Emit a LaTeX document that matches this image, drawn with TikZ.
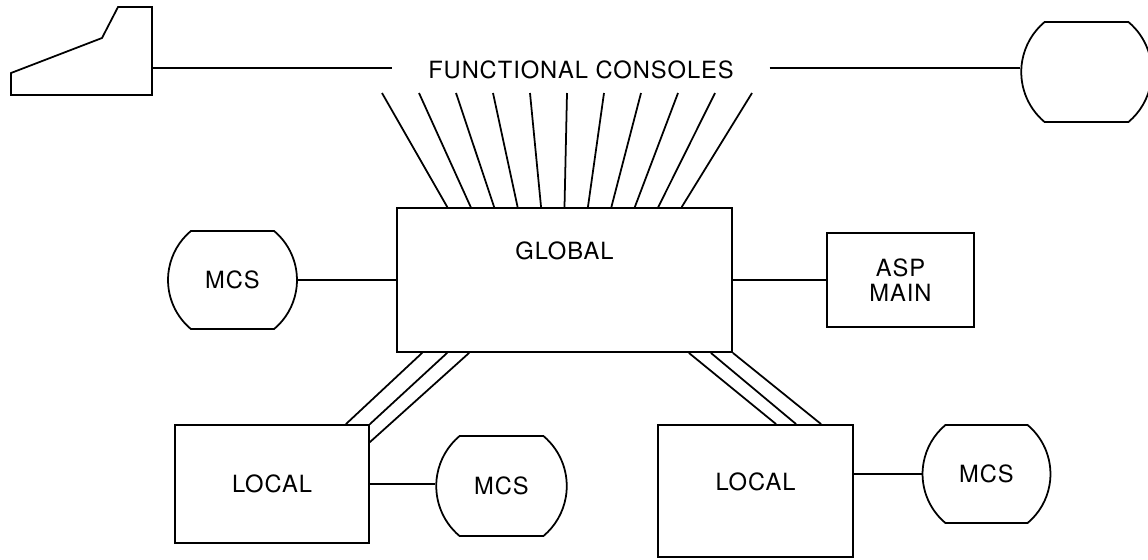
\documentclass[tikz,border=0pt]{standalone}
\usepackage{fontspec}
\setmainfont[LetterSpace=4]{TeX Gyre Heros}
\usetikzlibrary{calc,positioning,shapes.misc}

\begin{document}
\begin{tikzpicture}[x=0.02cm,y=-0.02cm,line width=1pt,
  every node/.style={font=\fontsize{13.5}{14.5}\selectfont},
  unitbox/.style={draw,rectangle,inner sep=0pt},
  drumbox/.style={draw,rounded rectangle,rounded rectangle arc length=100,inner sep=0pt}]
  \useasboundingbox (0,0) rectangle (1148,559);
  % consoles
  \draw (11,95) -- (152,95) -- (152,7) -- (118,7) -- (102,38) -- (11,73) -- cycle;
  \coordinate (term) at (152,68);
  \node[inner xsep=0.7cm] (fc) at (581,70) {FUNCTIONAL CONSOLES};
  \node[drumbox,minimum width=2.42cm,minimum height=2cm] (disk) at (1086.5,72) {};
  \draw (term) -- (term -| fc.west);
  \draw (fc.east |- term) -- (disk.west |- term);
  % processors
  \node[unitbox,minimum width=6.7cm,minimum height=2.88cm,
    label={[yshift=0.58cm]center:GLOBAL}] (global) at (564.5,280) {};
  \node[drumbox,minimum width=2.58cm,minimum height=1.96cm] (mcsg) at (232.5,280) {MCS};
  \node[unitbox,minimum width=2.94cm,minimum height=1.88cm,align=center] (asp) at (900.5,280) {ASP\\MAIN};
  \node[unitbox,minimum width=3.88cm,minimum height=2.36cm] (lloc) at (272,484) {LOCAL};
  \node[drumbox,minimum width=2.54cm,minimum height=2cm] (mcsl) at (501.5,486) {MCS};
  \node[unitbox,minimum width=3.9cm,minimum height=2.64cm,
    label={[yshift=0.18cm]center:LOCAL}] (rloc) at (755.5,491) {};
  \node[drumbox,minimum width=2.42cm,minimum height=1.96cm] (mcsr) at (986.5,474) {MCS};
  % console fan
  \foreach \i in {0,...,10} {
    \coordinate (top\i) at (382+37*\i,93);
    \draw (top\i) -- ($(global.north west)!{0.152+0.0696*\i}!(global.north east)$);
  }
  \draw (mcsg) -- (global);
  \draw (global) -- (asp);
  \draw (lloc.east) -- (lloc.east -| mcsl.west);
  \draw (mcsr.west -| rloc.east) -- (mcsr.west);
  % trunks to locals
  \draw ($(global.south west)+(26,0)$) -- ($(lloc.north east)+(-24,0)$);
  \draw ($(global.south west)+(51,0)$) -- (lloc.north east);
  \draw ($(global.south west)+(73,0)$) -- ($(lloc.north east)+(0,18)$);
  \draw ($(global.south east)+(-44,0)$) -- ($(rloc.north west)+(119,0)$);
  \draw ($(global.south east)+(-22,0)$) -- ($(rloc.north west)+(139,0)$);
  \draw (global.south east) -- ($(rloc.north west)+(164,0)$);
\end{tikzpicture}
\end{document}
